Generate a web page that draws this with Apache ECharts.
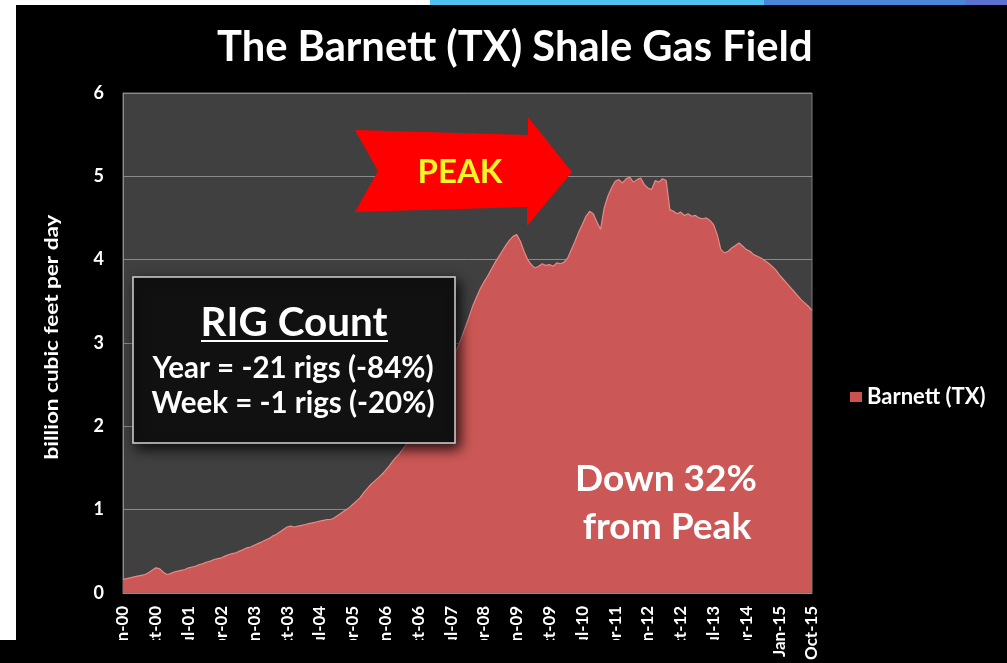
<!DOCTYPE html>
<html>
<head>
<meta charset="utf-8">
<script src="https://cdn.jsdelivr.net/npm/echarts@6/dist/echarts.min.js"></script>
<style>
html,body{margin:0;padding:0;background:#000;}
#chart{width:1007px;height:663px;}
</style>
</head>
<body>
<div id="chart"></div>
<script>
// ---- data ----
const monthNames = ['Jan','Feb','Mar','Apr','May','Jun','Jul','Aug','Sep','Oct','Nov','Dec'];
const startYear = 2000, endYear = 2015, endMonth = 9; // Oct-15
const categories = [];
for (let y = startYear; y <= endYear; y++) {
  for (let m = 0; m < 12; m++) {
    if (y === endYear && m > endMonth) break;
    categories.push(monthNames[m] + '-' + String(y).slice(2));
  }
}
const seriesName = 'Barnett (TX)';
const barnett = [
  0.16,0.17,0.18,0.19,0.20,0.21,0.22,0.24,0.27,0.30,0.29,0.25,
  0.22,0.23,0.25,0.26,0.27,0.28,0.30,0.31,0.32,0.34,0.35,0.37,
  0.38,0.40,0.41,0.42,0.44,0.46,0.47,0.48,0.50,0.52,0.54,0.55,
  0.57,0.59,0.61,0.63,0.65,0.68,0.70,0.73,0.76,0.79,0.80,0.79,
  0.80,0.81,0.82,0.83,0.84,0.85,0.86,0.87,0.88,0.88,0.90,0.93,
  0.96,0.99,1.02,1.06,1.10,1.14,1.20,1.25,1.30,1.34,1.38,1.42,
  1.47,1.52,1.58,1.63,1.68,1.74,1.80,1.86,1.92,1.98,2.05,2.12,
  2.20,2.28,2.37,2.46,2.56,2.66,2.76,2.86,2.97,3.08,3.20,3.32,
  3.45,3.55,3.65,3.73,3.80,3.88,3.96,4.03,4.10,4.17,4.23,4.28,
  4.30,4.22,4.10,4.00,3.94,3.90,3.92,3.95,3.93,3.94,3.92,3.96,
  3.95,3.97,4.02,4.12,4.22,4.33,4.42,4.52,4.58,4.55,4.45,4.36,
  4.62,4.76,4.86,4.94,4.96,4.92,4.97,4.99,4.93,4.96,4.98,4.90,
  4.86,4.84,4.95,4.93,4.97,4.95,4.60,4.58,4.55,4.57,4.53,4.55,
  4.52,4.53,4.50,4.49,4.50,4.47,4.42,4.30,4.12,4.08,4.10,4.14,
  4.17,4.20,4.16,4.12,4.10,4.06,4.04,4.02,3.99,3.96,3.92,3.88,
  3.82,3.77,3.72,3.67,3.62,3.57,3.52,3.48,3.44,3.39
];
const titleText = 'The Barnett (TX) Shale Gas Field';
const yAxisTitle = 'billion cubic feet per day';
const rigTitle = 'RIG Count';
const rigLines = ['Year = -21 rigs (-84%)', 'Week = -1 rigs (-20%)'];
const peakText = 'PEAK';
const downLines = ['Down 32%', 'from Peak'];

// ---- helpers ----
const FONT = 'Lato';
const ctx = document.createElement('canvas').getContext('2d');
function measure(text, size) {
  ctx.font = 'bold ' + size + 'px ' + FONT;
  return ctx.measureText(text).width;
}
function fit(text, width) {
  return Math.round(100 * width / measure(text, 100) * 10) / 10;
}

const chart = echarts.init(document.getElementById('chart'), null, {renderer: 'canvas'});

const titleSize = fit(titleText, 596);
const rigTitleSize = fit(rigTitle, 187);
const rigLineSize = fit(rigLines[0], 281);
const peakSize = fit(peakText, 85);
const downSize = fit(downLines[0], 182);
const yTitleSize = 19;
const yTitleScale = 245 / measure(yAxisTitle, yTitleSize);

const option = {
  backgroundColor: '#000000',
  animation: false,
  title: {
    text: titleText,
    left: 212,
    top: 22,
    textStyle: {color: '#ffffff', fontFamily: FONT, fontWeight: 'bold', fontSize: titleSize}
  },
  legend: {
    data: [seriesName],
    left: 845,
    top: 381,
    icon: 'rect',
    itemWidth: 12,
    itemHeight: 10,
    itemGap: 6,
    textStyle: {color: '#ffffff', fontFamily: FONT, fontWeight: 'bold', fontSize: 22}
  },
  grid: {
    left: 123, right: 195, top: 93, bottom: 70,
    show: true, backgroundColor: '#404040', borderColor: '#7a7a7a', borderWidth: 1
  },
  xAxis: {
    type: 'category',
    data: categories,
    boundaryGap: false,
    axisLine: {show: true, lineStyle: {color: '#8c8c8c', width: 1}},
    axisTick: {show: false},
    splitLine: {show: false},
    axisLabel: {
      interval: 8, rotate: 90, margin: 13,
      color: '#ffffff', fontFamily: FONT, fontWeight: 'bold', fontSize: 17
    }
  },
  yAxis: {
    type: 'value',
    min: 0, max: 6, interval: 1,
    axisLine: {show: true, lineStyle: {color: '#8c8c8c', width: 1}},
    axisTick: {show: false},
    splitLine: {show: true, lineStyle: {color: '#8a8a8a', width: 1}},
    axisLabel: {margin: 19, color: '#ffffff', fontFamily: FONT, fontWeight: 'bold', fontSize: 18}
  },
  series: [{
    name: seriesName,
    type: 'line',
    data: barnett,
    symbol: 'none',
    smooth: false,
    itemStyle: {color: '#c9524f'},
    lineStyle: {color: '#e48a88', width: 1.2},
    areaStyle: {color: '#cb5856', opacity: 1},
    z: 2
  }],
  graphic: [
    // y-axis title
    {type: 'text', x: 52, y: 337, rotation: Math.PI / 2, scaleX: yTitleScale, z: 20,
     style: {text: yAxisTitle, fill: '#ffffff', font: 'bold ' + yTitleSize + 'px ' + FONT,
             textAlign: 'center', textVerticalAlign: 'middle'}},
    // peak arrow
    {type: 'polygon', z: 30,
     shape: {points: [[355,130],[528,135],[528,117],[572,172],[527,226],[527,207],[355,212],[378,171]]},
     style: {fill: '#ff0000'}},
    {type: 'text', x: 460, y: 172, z: 31,
     style: {text: peakText, fill: '#f5f52a', font: 'bold ' + peakSize + 'px ' + FONT,
             textAlign: 'center', textVerticalAlign: 'middle'}},
    // rig count box
    {type: 'rect', z: 40, shape: {x: 133, y: 277, width: 322, height: 166},
     style: {fill: '#111111', stroke: '#d4d4d4', lineWidth: 1.5,
             shadowBlur: 12, shadowColor: 'rgba(0,0,0,0.85)', shadowOffsetX: 4, shadowOffsetY: 5}},
    {type: 'text', x: 294, y: 323, z: 41,
     style: {text: rigTitle, fill: '#ffffff', font: 'bold ' + rigTitleSize + 'px ' + FONT,
             textAlign: 'center', textVerticalAlign: 'middle'}},
    {type: 'line', z: 41, shape: {x1: 201, y1: 341, x2: 388, y2: 341},
     style: {stroke: '#ffffff', lineWidth: 2}},
    {type: 'text', x: 293, y: 368, z: 41,
     style: {text: rigLines[0], fill: '#ffffff', font: 'bold ' + rigLineSize + 'px ' + FONT,
             textAlign: 'center', textVerticalAlign: 'middle'}},
    {type: 'text', x: 293, y: 403, z: 41,
     style: {text: rigLines[1], fill: '#ffffff', font: 'bold ' + rigLineSize + 'px ' + FONT,
             textAlign: 'center', textVerticalAlign: 'middle'}},
    // down 32%
    {type: 'text', x: 666, y: 479, z: 35,
     style: {text: downLines[0], fill: '#ffffff', font: 'bold ' + downSize + 'px ' + FONT,
             textAlign: 'center', textVerticalAlign: 'middle',
             shadowBlur: 5, shadowColor: 'rgba(0,0,0,0.7)', shadowOffsetX: 2, shadowOffsetY: 3}},
    {type: 'text', x: 667, y: 527, z: 35,
     style: {text: downLines[1], fill: '#ffffff', font: 'bold ' + downSize + 'px ' + FONT,
             textAlign: 'center', textVerticalAlign: 'middle',
             shadowBlur: 5, shadowColor: 'rgba(0,0,0,0.7)', shadowOffsetX: 2, shadowOffsetY: 3}},
    // screenshot frame pieces
    {type: 'rect', z: 90, shape: {x: 0, y: 0, width: 16, height: 640}, style: {fill: '#ffffff'}},
    {type: 'rect', z: 90, shape: {x: 0, y: 0, width: 430, height: 5}, style: {fill: '#ffffff'}},
    {type: 'rect', z: 90, shape: {x: 430, y: 0, width: 334, height: 5}, style: {fill: '#4fc3ef'}},
    {type: 'rect', z: 90, shape: {x: 764, y: 0, width: 201, height: 5}, style: {fill: '#4a86d8'}},
    {type: 'rect', z: 90, shape: {x: 965, y: 0, width: 42, height: 5}, style: {fill: '#5b73cf'}},
    {type: 'rect', z: 90, shape: {x: 0, y: 640, width: 760, height: 23}, style: {fill: '#000000'}}
  ]
};
chart.setOption(option);
</script>
</body>
</html>
